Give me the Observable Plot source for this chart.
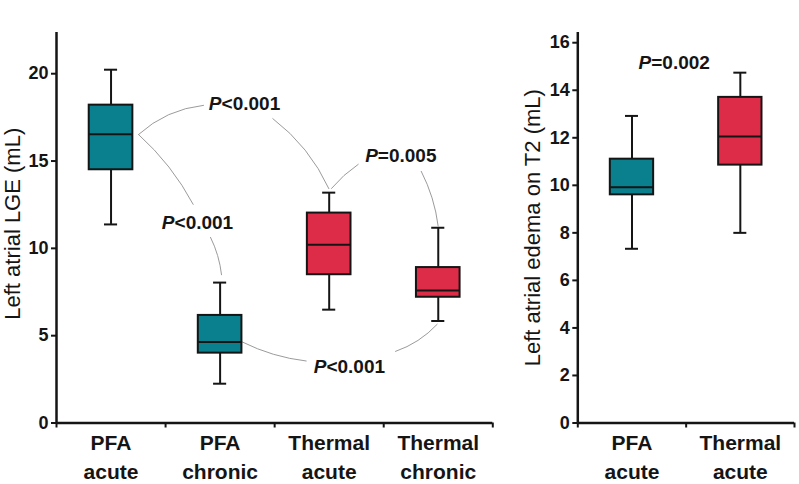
<!DOCTYPE html>
<html>
<head>
<meta charset="utf-8">
<script src="https://cdn.jsdelivr.net/npm/d3@7"></script>
<script src="https://cdn.jsdelivr.net/npm/@observablehq/plot@0.6"></script>
<style>
  html, body { margin: 0; padding: 0; background: #fff; }
  #wrap { position: relative; width: 799px; height: 484px; overflow: hidden; font-family: "Liberation Sans", Arial, sans-serif; }
  .panel { position: absolute; top: 0; }
  .letter { position: absolute; top: 0px; font-size: 19px; font-family: "Liberation Sans", Arial, sans-serif; color: #111; }
</style>
</head>
<body>
<div id="wrap">
  <div class="letter" style="left:6px;">A</div>
  <div class="letter" style="left:528px;">B</div>
  <div id="pa" class="panel" style="left:0px;"></div>
  <div id="pb" class="panel" style="left:500px;"></div>
</div>
<script>
// ---- Panel A data ----
const catsA = ["PFA\nacute", "PFA\nchronic", "Thermal\nacute", "Thermal\nchronic"];
const groupsA = ["PFA", "PFA", "Thermal", "Thermal"];
const lowA  = [11.37, 2.25, 6.49, 5.84];
const q1A   = [14.5, 4.0, 8.49, 7.2];
const medA  = [16.53, 4.64, 10.21, 7.58];
const q3A   = [18.2, 6.16, 12.02, 8.9];
const highA = [20.23, 8.04, 13.19, 11.18];
const yTicksA = [0, 5, 10, 15, 20];
const pLabelsA = ["P<0.001", "P<0.001", "P=0.005", "P<0.001"];
const pXA = [2.224, 1.793, 3.657, 3.185];
const pYA = [18.27, 11.46, 15.27, 3.23];
// connectors: start (x,y) -> end (x,y), bend angle
const conX1 = [1.252, 2.483, 1.252, 1.912, 3.021, 3.844, 2.203, 3.608];
const conY1 = [16.52, 17.43, 16.52, 10.63, 13.43, 14.41, 4.64, 4.10];
const conX2 = [1.848, 2.997, 1.753, 2.013, 3.266, 3.999, 2.789, 3.990];
const conY2 = [18.19, 13.42, 12.52, 8.49, 14.81, 11.28, 3.55, 5.65];
const conBend = [18, 14, 10, 10, 8, 10, -10, -14];

// ---- Panel B data ----
const catsB = ["PFA\nacute", "Thermal\nacute"];
const groupsB = ["PFA", "Thermal"];
const lowB  = [7.33, 8.0];
const q1B   = [9.6, 10.85];
const medB  = [9.92, 12.05];
const q3B   = [11.1, 13.7];
const highB = [12.92, 14.74];
const yTicksB = [0, 2, 4, 6, 8, 10, 12, 14, 16];
const pLabelsB = ["P=0.002"];
const pXB = [1.39];
const pYB = [15.13];

const TEAL = "#0a7f8d";
const RED = "#dd2c48";
const INK = "#151515";
const FONT = "'Liberation Sans', Arial, sans-serif";

function panel(o) {
  const n = o.cats.length;
  const data = o.cats.map((c, k) => ({
    i: k + 1, c, g: o.groups[k], low: o.low[k], q1: o.q1[k], med: o.med[k], q3: o.q3[k], high: o.high[k]
  }));
  const labels = o.pl.map((t, k) => ({t, x: o.px[k], y: o.py[k]}));
  const bounds = d3.range(n + 1).map(k => k + 0.5);
  const conMarks = (o.con || []).map(c =>
    Plot.arrow([c], {x1: "x1", y1: "y1", x2: "x2", y2: "y2", bend: c.bend, headLength: 0,
      stroke: "#9b9b9b", strokeWidth: 1})
  );
  return Plot.plot({
    width: o.width, height: 484,
    marginLeft: o.ml, marginRight: o.mr, marginTop: 32, marginBottom: 61.5,
    x: {domain: [0.5, n + 0.5], axis: null},
    y: {domain: [0, o.ymax], axis: null},
    color: {domain: ["PFA", "Thermal"], range: [TEAL, RED]},
    style: {fontFamily: FONT, background: "white", overflow: "visible", color: INK},
    marks: [
      ...conMarks,
      Plot.ruleX(data, {x: "i", y1: "low", y2: "high", stroke: INK, strokeWidth: 2}),
      Plot.ruleY(data, {y: "low", x1: d => d.i - 0.06, x2: d => d.i + 0.06, stroke: INK, strokeWidth: 2}),
      Plot.ruleY(data, {y: "high", x1: d => d.i - 0.06, x2: d => d.i + 0.06, stroke: INK, strokeWidth: 2}),
      Plot.rect(data, {x1: d => d.i - 0.2, x2: d => d.i + 0.2, y1: "q1", y2: "q3", fill: "g", stroke: INK, strokeWidth: 2}),
      Plot.ruleY(data, {y: "med", x1: d => d.i - 0.2, x2: d => d.i + 0.2, stroke: INK, strokeWidth: 2}),
      Plot.text(labels, {x: "x", y: "y", text: "t", fontSize: 19, fontWeight: "bold", fill: INK}),
      Plot.ruleX([0.5], {y1: 0, y2: o.ymax, stroke: INK, strokeWidth: 2.5}),
      Plot.ruleY([0], {x1: 0.5, x2: n + 0.5, stroke: INK, strokeWidth: 2.5}),
      Plot.axisY({ticks: o.yticks, tickSize: 5, tickPadding: 3, fontSize: 18, label: null, strokeWidth: 2, stroke: INK, fill: INK}),
      Plot.axisX({ticks: bounds, tickSize: 5, tickFormat: () => "", label: null, strokeWidth: 2, stroke: INK}),
      Plot.text(data, {x: "i", y: 0, text: "c", dy: 7, lineAnchor: "top", fontSize: 21, fontWeight: "bold", lineHeight: 1.36, fill: INK}),
      Plot.text([o.ylabel], {frameAnchor: "left", textAnchor: "middle", rotate: -90, dx: o.ldx, dy: o.ldy, fontSize: 22, fill: INK})
    ]
  });
}

function finish(svg) {
  svg.querySelectorAll("text").forEach(t => {
    const s = t.textContent;
    if (/^P[<=]/.test(s) && t.children.length === 0) {
      t.textContent = "";
      const a = document.createElementNS("http://www.w3.org/2000/svg", "tspan");
      a.setAttribute("font-style", "italic");
      a.textContent = "P";
      const b = document.createElementNS("http://www.w3.org/2000/svg", "tspan");
      b.textContent = s.slice(1);
      t.appendChild(a); t.appendChild(b);
    } else if (/^\d+$/.test(s)) {
      // y-axis tick labels: bold, larger
      t.style.fontWeight = "bold";
      t.style.fontSize = "18px";
    }
  });
  return svg;
}

const cons = conX1.map((x1, k) => ({x1, y1: conY1[k], x2: conX2[k], y2: conY2[k], bend: conBend[k]}));

const A = panel({
  width: 500, ml: 56, mr: 7.7, ymax: 22.36, yticks: yTicksA,
  cats: catsA, groups: groupsA, low: lowA, q1: q1A, med: medA, q3: q3A, high: highA,
  pl: pLabelsA, px: pXA, py: pYA, con: cons,
  ylabel: "Left atrial LGE (mL)", ldx: -44, ldy: -4
});
const B = panel({
  width: 299, ml: 77.3, mr: 5, ymax: 16.43, yticks: yTicksB,
  cats: catsB, groups: groupsB, low: lowB, q1: q1B, med: medB, q3: q3B, high: highB,
  pl: pLabelsB, px: pXB, py: pYB, con: [],
  ylabel: "Left atrial edema on T2 (mL)", ldx: -45, ldy: 0
});
document.getElementById("pa").appendChild(finish(A));
document.getElementById("pb").appendChild(finish(B));
</script>
</body>
</html>
